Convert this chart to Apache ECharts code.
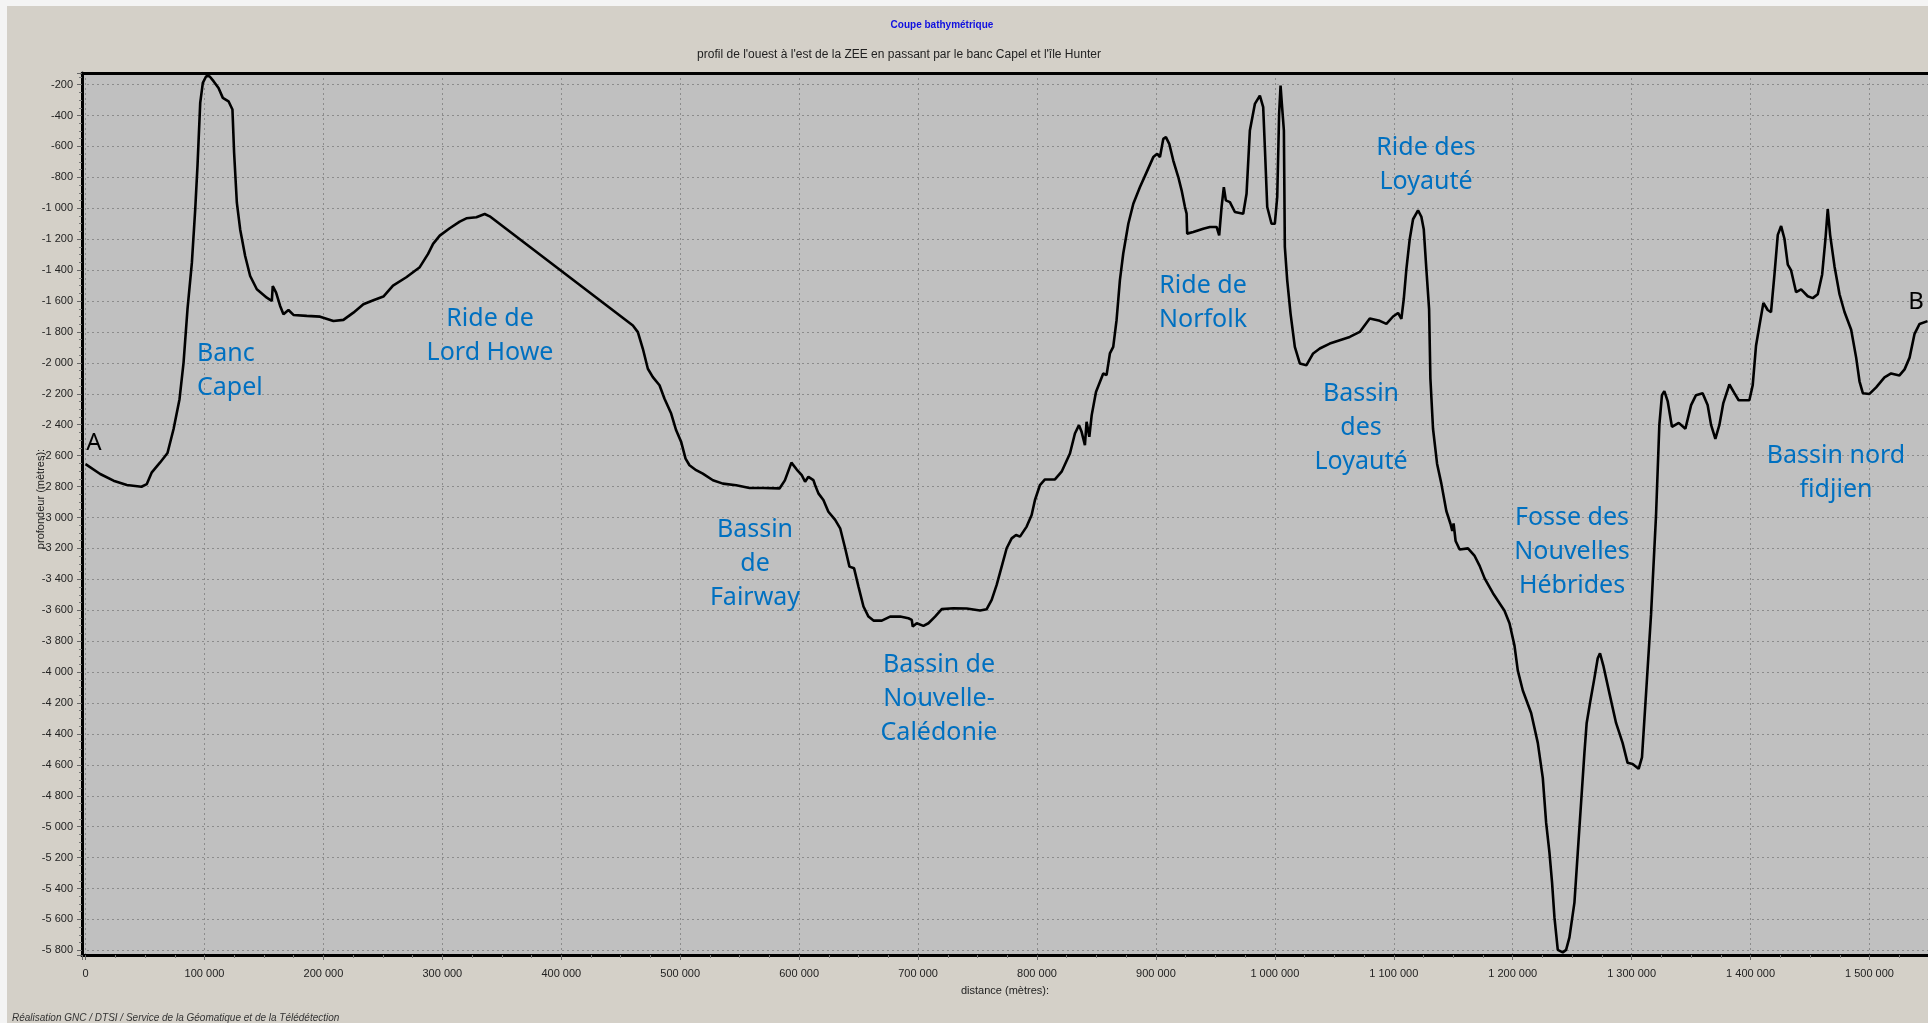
<!DOCTYPE html>
<html lang="fr">
<head>
<meta charset="utf-8">
<title>Coupe bathymétrique</title>
<script src="https://cdn.jsdelivr.net/npm/echarts@6/dist/echarts.min.js"></script>
<style>
  html, body { margin: 0; padding: 0; overflow: hidden; background: #f4f4f4; }
  #chart { width: 1928px; height: 1023px; }
</style>
</head>
<body>
<div id="chart"></div>
<script>
// Profil bathymétrique ouest -> est : distance le long du profil (m) et profondeur (m)
const distance = [
  0, 12300, 23500, 34700, 47000, 51500, 55700, 62700, 68900, 74000,
  79000, 82400, 85700, 89400, 92200, 94100, 96400, 98600, 101400, 104200,
  107600, 111800, 115400, 120200, 123500, 124900, 127200, 130000, 134200, 138400,
  144000, 152400, 156600, 157400, 160200, 163600, 166400, 170600, 174800, 186000,
  197200, 208400, 216800, 225200, 233600, 242000, 250400, 258500, 269700, 281000,
  288000, 292200, 297800, 306200, 314600, 320200, 328600, 335600, 339800, 460200,
  464400, 468600, 472800, 477000, 482600, 486800, 492400, 496600, 500800, 504500,
  507800, 513400, 519000, 527500, 535900, 547100, 558300, 569500, 583500, 588000,
  593500, 598000, 602200, 605000, 607800, 612000, 613400, 616200, 620400, 624600,
  630300, 634500, 638700, 642300, 646200, 649900, 654100, 658300, 662500, 669500,
  676500, 684900, 691900, 694700, 695500, 698900, 704500, 708700, 714300, 719900,
  729700, 740900, 752100, 757700, 761900, 766100, 770300, 774500, 778700, 782400,
  785700, 791300, 795500, 798300, 802500, 806700, 815100, 820700, 827700, 831900,
  835300, 837500, 840300, 841700, 844000, 846000, 849600, 855700, 858500, 861300,
  864100, 866900, 869700, 872500, 876800, 881000, 886600, 892200, 897800, 901100,
  903400, 906200, 908400, 911200, 914600, 918800, 921600, 924400, 925800, 926300,
  931400, 939800, 945400, 951000, 953200, 955200, 957100, 958800, 962200, 966400,
  973400, 976200, 979000, 983200, 987400, 990200, 991600, 993600, 997200, 1000000,
  1002000, 1003600, 1004800, 1005900, 1007600, 1008400, 1010400, 1013200, 1016800, 1021000,
  1026600, 1032200, 1037800, 1046200, 1054600, 1063000, 1071400, 1079800, 1088200, 1093800,
  1099400, 1103600, 1106400, 1108400, 1110600, 1113400, 1116200, 1120400, 1123200, 1125200,
  1127400, 1129700, 1130800, 1133000, 1136400, 1140000, 1144200, 1147600, 1149200, 1150300,
  1152000, 1155400, 1162400, 1168000, 1172200, 1176400, 1183400, 1193100, 1197300, 1201500,
  1204300, 1208500, 1215500, 1221100, 1225300, 1228100, 1230900, 1233100, 1235100, 1237900,
  1242100, 1244900, 1247700, 1251900, 1254700, 1257500, 1260300, 1262200, 1265000, 1268700,
  1271500, 1273400, 1276200, 1281300, 1286900, 1292400, 1296600, 1300800, 1305900, 1308700,
  1312100, 1316300, 1320500, 1323300, 1325500, 1327500, 1330300, 1333900, 1339600, 1345200,
  1350000, 1354100, 1359700, 1363900, 1366800, 1370400, 1373800, 1377100, 1382200, 1386400,
  1390000, 1399000, 1401800, 1404600, 1407400, 1410800, 1414400, 1417200, 1420100, 1422900,
  1425700, 1428500, 1431300, 1434100, 1438300, 1442500, 1448100, 1452300, 1456500, 1460200,
  1463000, 1464900, 1466900, 1470600, 1474800, 1479000, 1484600, 1488800, 1491600, 1494400,
  1500000, 1505600, 1512600, 1518200, 1525200, 1529500, 1533700, 1537900, 1542100, 1548800
];
const depth = [
  -2655, -2719, -2762, -2790, -2801, -2784, -2708, -2644, -2583, -2428,
  -2235, -1998, -1653, -1352, -1007, -727, -318, -189, -146, -146,
  -178, -222, -286, -308, -361, -641, -964, -1137, -1309, -1438,
  -1524, -1578, -1600, -1503, -1546, -1632, -1686, -1658, -1690, -1696,
  -1701, -1729, -1722, -1675, -1621, -1595, -1571, -1500, -1446, -1381,
  -1295, -1230, -1177, -1129, -1086, -1065, -1058, -1037, -1052, -1758,
  -1801, -1909, -2038, -2092, -2145, -2232, -2328, -2436, -2511, -2619,
  -2662, -2694, -2716, -2759, -2781, -2791, -2809, -2809, -2812, -2760,
  -2645, -2690, -2726, -2769, -2737, -2758, -2790, -2844, -2887, -2963,
  -3016, -3070, -3199, -3318, -3329, -3447, -3576, -3641, -3667, -3667,
  -3641, -3641, -3652, -3662, -3705, -3684, -3701, -3684, -3641, -3593,
  -3587, -3589, -3602, -3593, -3533, -3436, -3318, -3199, -3135, -3113,
  -3124, -3059, -2984, -2887, -2790, -2754, -2754, -2704, -2586, -2457,
  -2403, -2446, -2532, -2381, -2478, -2338, -2188, -2069, -2079, -1939,
  -1896, -1724, -1466, -1294, -1100, -971, -863, -766, -669, -648,
  -669, -551, -540, -583, -691, -798, -884, -992, -1035, -1164,
  -1154, -1132, -1121, -1121, -1175, -992, -863, -949, -960, -1024,
  -1035, -906, -497, -325, -271, -346, -605, -992, -1100, -1100,
  -927, -389, -206, -325, -497, -1250, -1466, -1681, -1896, -2004,
  -2015, -1939, -1907, -1875, -1853, -1832, -1800, -1713, -1728, -1748,
  -1700, -1677, -1716, -1587, -1394, -1200, -1071, -1013, -1055, -1135,
  -1394, -1652, -2103, -2426, -2652, -2781, -2958, -3039, -3087, -3039,
  -3152, -3207, -3200, -3249, -3313, -3394, -3490, -3603, -3684, -3829,
  -3991, -4119, -4265, -4458, -4684, -4974, -5168, -5362, -5587, -5797,
  -5813, -5797, -5716, -5491, -5168, -4845, -4523, -4329, -4200, -4039,
  -3910, -3878, -3958, -4136, -4329, -4458, -4587, -4594, -4626, -4552,
  -4142, -3630, -2990, -2401, -2209, -2183, -2247, -2414, -2388, -2426,
  -2273, -2209, -2196, -2273, -2401, -2491, -2401, -2260, -2140, -2196,
  -2242, -2242, -2145, -1889, -1761, -1612, -1658, -1671, -1428, -1172,
  -1115, -1197, -1364, -1402, -1543, -1525, -1569, -1581, -1556, -1428,
  -1197, -1005, -1172, -1376, -1556, -1671, -1786, -1966, -2119, -2196,
  -2201, -2158, -2094, -2068, -2081, -2042, -1966, -1812, -1748, -1730
];

// Noms des structures sous-marines portés sur le profil
const regionNames = [
  'Banc\nCapel', 'Ride de\nLord Howe', 'Bassin\nde\nFairway',
  'Bassin de\nNouvelle-\nCalédonie', 'Ride de\nNorfolk', 'Ride des\nLoyauté',
  'Bassin\ndes\nLoyauté', 'Fosse des\nNouvelles\nHébrides', 'Bassin nord\nfidjien'
];
const endPoints = ['A', 'B'];

const titleText = 'Coupe bathymétrique';
const subtitleText = "profil de l'ouest à l'est de la ZEE en passant par le banc Capel et l'île Hunter";
const creditText = 'Réalisation GNC / DTSI / Service de la Géomatique et de la Télédétection';

// nombre avec espace comme séparateur de milliers : -1 000, 1 200 000
function spaced(v) {
  const s = Math.round(Math.abs(v)).toString().replace(/\B(?=(\d{3})+(?!\d))/g, ' ');
  return (v < 0 ? '-' : '') + s;
}

const profile = distance.map((d, i) => [d, depth[i]]);

const AXIS_FONT = '"Liberation Sans", Arial, sans-serif';
const LABEL_FONT = '"Noto Sans", "Open Sans", sans-serif';
const LABEL_BLUE = '#0070c0';

// positions des étiquettes (centre du bloc de texte, en pixels)
const regionAnchors = [
  { x: 197, y: 371, align: 'left' },
  { x: 490, y: 336 },
  { x: 755, y: 564 },
  { x: 939, y: 699 },
  { x: 1203, y: 303 },
  { x: 1426, y: 165 },
  { x: 1361, y: 428 },
  { x: 1572, y: 552 },
  { x: 1836, y: 473 }
];
const endAnchors = [{ x: 94, y: 443 }, { x: 1916, y: 302 }];

const graphics = [
  // liseré clair en haut et à gauche du panneau
  { type: 'rect', shape: { x: 0, y: 0, width: 1928, height: 6 }, style: { fill: '#f4f4f4' }, silent: true },
  { type: 'rect', shape: { x: 0, y: 0, width: 7, height: 1023 }, style: { fill: '#f4f4f4' }, silent: true },
  { type: 'text', x: 942, y: 25, style: { text: titleText, fill: '#1010e0', font: 'bold 10px ' + AXIS_FONT, align: 'center', verticalAlign: 'middle' } },
  { type: 'text', x: 899, y: 55, style: { text: subtitleText, fill: '#222', font: '12px ' + AXIS_FONT, align: 'center', verticalAlign: 'middle' } },
  { type: 'text', x: 12, y: 1018, style: { text: creditText, fill: '#333', font: 'italic 10px ' + AXIS_FONT, align: 'left', verticalAlign: 'middle' } }
];
regionNames.forEach((name, i) => {
  const a = regionAnchors[i];
  graphics.push({
    type: 'text', x: a.x, y: a.y, z: 100,
    style: { text: name, fill: LABEL_BLUE, font: '25px ' + LABEL_FONT, lineHeight: 34, align: a.align || 'center', verticalAlign: 'middle' }
  });
});
endPoints.forEach((name, i) => {
  const a = endAnchors[i];
  graphics.push({
    type: 'text', x: a.x, y: a.y, z: 100,
    style: { text: name, fill: '#000', font: '24px ' + LABEL_FONT, align: 'center', verticalAlign: 'middle' }
  });
});

const chart = echarts.init(document.getElementById('chart'), null, { renderer: 'canvas' });
chart.setOption({
  animation: false,
  backgroundColor: '#d4d0c8',
  grid: { left: 82, top: 73, right: 0, bottom: 68, show: true, backgroundColor: '#c0c0c0', borderWidth: 0 },
  xAxis: [
    {
      type: 'value', position: 'bottom', min: -3000, max: 1549200, splitNumber: 15,
      name: 'distance (mètres):', nameLocation: 'middle', nameGap: 30, nameMoveOverlap: false,
      nameTextStyle: { color: '#222', fontSize: 11, fontFamily: AXIS_FONT },
      axisLine: { onZero: false, lineStyle: { color: '#000', width: 3 } },
      axisTick: { show: true, length: 5, lineStyle: { color: '#666' } },
      minorTick: { show: true, splitNumber: 4, length: 3, lineStyle: { color: '#777' } },
      axisLabel: { showMinLabel: false, showMaxLabel: false, margin: 13, color: '#222', fontSize: 11, fontFamily: AXIS_FONT, formatter: spaced },
      splitLine: { show: true, lineStyle: { color: '#8c8c8c', type: [2, 3], width: 1 } }
    },
    {
      type: 'value', position: 'top', min: -3000, max: 1549200,
      axisLine: { onZero: false, lineStyle: { color: '#000', width: 3 } },
      axisTick: { show: false }, axisLabel: { show: false }, splitLine: { show: false }
    }
  ],
  yAxis: {
    type: 'value', min: -5830, max: -125, splitNumber: 28,
    name: 'profondeur (mètres):', nameLocation: 'middle', nameGap: 36, nameMoveOverlap: false,
    nameTextStyle: { color: '#222', fontSize: 11, fontFamily: AXIS_FONT, padding: [0, 0, 0, 30] },
    axisLine: { onZero: false, lineStyle: { color: '#000', width: 3 } },
    axisTick: { show: true, length: 5, lineStyle: { color: '#666' } },
    minorTick: { show: true, splitNumber: 4, length: 3, lineStyle: { color: '#777' } },
    axisLabel: { showMinLabel: false, showMaxLabel: false, margin: 9, color: '#222', fontSize: 11, fontFamily: AXIS_FONT, formatter: spaced },
    splitLine: { show: true, lineStyle: { color: '#8c8c8c', type: [2, 3], width: 1 } }
  },
  series: [{
    type: 'line', xAxisIndex: 0, data: profile, showSymbol: false, symbol: 'none',
    lineStyle: { color: '#000', width: 2.6 }, z: 5, clip: true
  }],
  graphic: graphics
});
</script>
</body>
</html>
